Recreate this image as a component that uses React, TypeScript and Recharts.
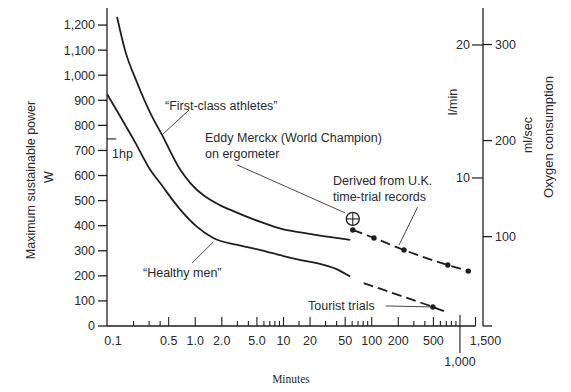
import React from 'react';
import { ComposedChart, Line, Scatter, XAxis, YAxis, ReferenceLine } from 'recharts';

// ─── Data (minutes vs watts) ────────────────────────────────────────────────

const athleteMinutes = [0.13, 0.16, 0.22, 0.31, 0.42, 0.68, 0.88, 1.9, 2.7, 5.5, 10, 15.6, 24, 57];
const athleteWatts = [1232, 1100, 969, 849, 762, 622, 570, 482, 458, 415, 385, 373, 362, 343];

const healthyMinutes = [0.1, 0.21, 0.31, 0.4, 0.68, 1.05, 1.6, 3.0, 5.5, 10, 15.6, 24, 40, 57];
const healthyWatts = [925, 730, 622, 570, 463, 395, 351, 323, 303, 279, 263, 251, 227, 197];

const healthyExtMinutes = [81, 215, 493, 693];
const healthyExtWatts = [171, 120, 76, 56];

const timeTrialMinutes = [61, 106, 232, 728, 1243];
const timeTrialWatts = [383, 351, 303, 243, 219];

const merckxMinutes = [61];
const merckxWatts = [427];

const touristMinutes = [493];
const touristWatts = [76];

const HP_WATTS = 746;

const minuteTicks = [
  0.1, 0.2, 0.3, 0.4, 0.5, 1, 2, 3, 4, 5, 6, 7, 8, 9, 10, 15, 20, 30, 40, 50, 60, 70, 80, 90,
  100, 200, 300, 400, 500, 600, 700, 800, 900, 1000, 1500,
];
const minuteLabelValues = [0.1, 0.5, 1, 2, 5, 10, 20, 50, 100, 200, 500, 1000, 1500];
const minuteLabelTexts = ['0.1', '0.5', '1.0', '2.0', '5.0', '10', '20', '50', '100', '200', '500', '1,000', '1,500'];

const powerTicks = [0, 100, 200, 300, 400, 500, 600, 700, 800, 900, 1000, 1100, 1200];
const litreTicks = [10, 20];
const mlTicks = [7, 100, 200, 300];

// ─── Helpers ────────────────────────────────────────────────────────────────

const zip = (ts: number[], ws: number[]) => ts.map((t, i) => ({ t, w: ws[i] }));

const athletes = zip(athleteMinutes, athleteWatts);
const healthy = zip(healthyMinutes, healthyWatts);
const healthyExt = zip(healthyExtMinutes, healthyExtWatts);
const timeTrials = zip(timeTrialMinutes, timeTrialWatts);
const merckx = zip(merckxMinutes, merckxWatts);
const tourist = zip(touristMinutes, touristWatts);

const FONT = '"Liberation Sans", Arial, Helvetica, sans-serif';
const INK = '#1e1e1e';
const TEXT = '#2a2a2a';
const TICK_FONT = 12.5;

const fmtWatts = (v: number) => v.toLocaleString('en-US');

function MinuteTick({ x, y, payload }: any) {
  const v = payload?.value;
  const idx = minuteLabelValues.indexOf(v);
  const major = idx >= 0;
  if (v === 0.1) {
    return (
      <text x={x + 6} y={y + 19} textAnchor="middle" fontSize={TICK_FONT} fontFamily={FONT} fill={TEXT}>0.1</text>
    );
  }
  if (v === 1000) {
    return (
      <g>
        <line x1={x} x2={x} y1={y - 11} y2={y + 27} stroke={INK} strokeWidth={1.1} />
        <text x={x} y={y + 40} textAnchor="middle" fontSize={TICK_FONT} fontFamily={FONT} fill={TEXT}>1,000</text>
      </g>
    );
  }
  const dx = v === 1500 ? 10 : 0;
  return (
    <g>
      <line x1={x} x2={x} y1={y} y2={y - (major ? 9 : 5)} stroke={INK} strokeWidth={1.1} />
      {major && (
        <text x={x + dx} y={y + 19} textAnchor="middle" fontSize={TICK_FONT} fontFamily={FONT} fill={TEXT}>
          {minuteLabelTexts[idx]}
        </text>
      )}
    </g>
  );
}

function MerckxMark({ cx, cy }: any) {
  const r = 6.5;
  return (
    <g>
      <circle cx={cx} cy={cy} r={r} fill="#fff" stroke={INK} strokeWidth={1.3} />
      <line x1={cx - r} x2={cx + r} y1={cy} y2={cy} stroke={INK} strokeWidth={1.1} />
      <line x1={cx} x2={cx} y1={cy - r} y2={cy + r} stroke={INK} strokeWidth={1.1} />
    </g>
  );
}

function Dot({ cx, cy }: any) {
  return <circle cx={cx} cy={cy} r={2.7} fill={INK} />;
}

const leader = { stroke: '#333', strokeWidth: 0.9 };
const txt = { fontSize: 12.5, fontFamily: FONT, fill: TEXT };

// ─── Component ──────────────────────────────────────────────────────────────

export default function App() {
  return (
    <div style={{ position: 'absolute', left: 0, top: 0, width: 571, height: 392, background: '#fff' }}>
      <ComposedChart width={571} height={392} margin={{ top: 8, right: 0, bottom: 0, left: 0 }}>
        <XAxis
          dataKey="t"
          type="number"
          scale="log"
          domain={[0.1, 1824]}
          allowDataOverflow
          ticks={minuteTicks}
          interval={0}
          tick={<MinuteTick />}
          tickLine={false}
          axisLine={false}
          tickSize={0}
          tickMargin={0}
          height={66}
        />
        <YAxis
          yAxisId="w"
          orientation="left"
          type="number"
          domain={[0, 1268]}
          allowDataOverflow
          ticks={powerTicks}
          interval={0}
          tickFormatter={fmtWatts}
          width={107}
          tickSize={9}
          tickMargin={3}
          stroke={INK}
          strokeWidth={1.3}
          tick={{ fill: TEXT, fontSize: TICK_FONT, fontFamily: FONT }}
        />
        <YAxis
          yAxisId="lmin"
          orientation="right"
          mirror
          type="number"
          domain={[-1.13, 22.78]}
          allowDataOverflow
          ticks={litreTicks}
          interval={0}
          width={1}
          axisLine={false}
          tickSize={11}
          tickMargin={2}
          stroke={INK}
          strokeWidth={1.2}
          tick={{ fill: TEXT, fontSize: TICK_FONT, fontFamily: FONT }}
        />
        <YAxis
          yAxisId="ml"
          orientation="right"
          type="number"
          domain={[7, 338]}
          allowDataOverflow
          ticks={mlTicks}
          interval={0}
          width={88}
          tickSize={9}
          tickMargin={3}
          tickFormatter={(v: number) => (v === 7 ? '' : String(v))}
          stroke={INK}
          strokeWidth={1.3}
          tick={{ fill: TEXT, fontSize: TICK_FONT, fontFamily: FONT }}
        />

        {/* bottom axis line, ends at 1,500 */}
        <ReferenceLine yAxisId="w" segment={[{ x: 0.1, y: 0 }, { x: 1500, y: 0 }]} stroke={INK} strokeWidth={1.3} />

        {/* 1 hp marker */}
        <ReferenceLine yAxisId="w" segment={[{ x: 0.1, y: HP_WATTS }, { x: 0.127, y: HP_WATTS }]} stroke={INK} strokeWidth={1.1} />

        {/* leader lines */}
        <ReferenceLine yAxisId="w" segment={[{ x: 0.42, y: 762 }, { x: 0.85, y: 861 }]} {...leader} />
        <ReferenceLine yAxisId="w" segment={[{ x: 3.0, y: 642 }, { x: 50, y: 451 }]} {...leader} />
        <ReferenceLine yAxisId="w" segment={[{ x: 331, y: 474 }, { x: 204, y: 323 }]} {...leader} />
        <ReferenceLine yAxisId="w" segment={[{ x: 0.92, y: 251 }, { x: 1.6, y: 335 }]} {...leader} />
        <ReferenceLine yAxisId="w" segment={[{ x: 144, y: 80 }, { x: 480, y: 76 }]} {...leader} />

        <Line yAxisId="w" data={athletes} dataKey="w" type="monotone" stroke={INK} strokeWidth={1.8} dot={false} isAnimationActive={false} />
        <Line yAxisId="w" data={healthy} dataKey="w" type="monotone" stroke={INK} strokeWidth={1.8} dot={false} isAnimationActive={false} />
        <Line yAxisId="w" data={healthyExt} dataKey="w" type="monotone" stroke={INK} strokeWidth={1.8} strokeDasharray="10 5" dot={false} isAnimationActive={false} />
        <Line
          yAxisId="w"
          data={timeTrials}
          dataKey="w"
          type="monotone"
          stroke={INK}
          strokeWidth={1.8}
          strokeDasharray="10 5"
          dot={<Dot />}
          isAnimationActive={false}
        />
        <Scatter yAxisId="w" data={tourist} dataKey="w" shape={<Dot />} isAnimationActive={false} />
        <Scatter yAxisId="w" data={merckx} dataKey="w" shape={<MerckxMark />} isAnimationActive={false} />

        {/* annotations */}
        <text x={165} y={110} {...txt}>“First-class athletes”</text>
        <text x={205} y={142} {...txt}>Eddy Merckx (World Champion)</text>
        <text x={205} y={158} {...txt}>on ergometer</text>
        <text x={333} y={185} {...txt}>Derived from U.K.</text>
        <text x={333} y={201} {...txt}>time-trial records</text>
        <text x={143} y={277} {...txt}>“Healthy men”</text>
        <text x={308} y={310} {...txt}>Tourist trials</text>
        <text x={112} y={158} {...txt}>1hp</text>

        {/* axis titles */}
        <text x={35} y={180} transform="rotate(-90, 35, 180)" textAnchor="middle" fontSize={12.5} fontFamily={FONT} fill={TEXT}>
          Maximum sustainable power
        </text>
        <text x={53} y={177} transform="rotate(-90, 53, 177)" textAnchor="middle" fontSize={12.5} fontFamily={FONT} fill={TEXT}>
          W
        </text>
        <text x={457} y={102} transform="rotate(-90, 457, 102)" textAnchor="middle" fontSize={12.5} fontFamily={FONT} fill={TEXT}>
          l/min
        </text>
        <text x={532} y={135} transform="rotate(-90, 532, 135)" textAnchor="middle" fontSize={12.5} fontFamily={FONT} fill={TEXT}>
          ml/sec
        </text>
        <text x={553} y={137} transform="rotate(-90, 553, 137)" textAnchor="middle" fontSize={13} fontFamily={FONT} fill={TEXT}>
          Oxygen consumption
        </text>
        <text x={291} y={383} textAnchor="middle" fontSize={11.5} fontFamily='"Liberation Serif", "Times New Roman", serif' fill={TEXT}>
          Minutes
        </text>
      </ComposedChart>
    </div>
  );
}
